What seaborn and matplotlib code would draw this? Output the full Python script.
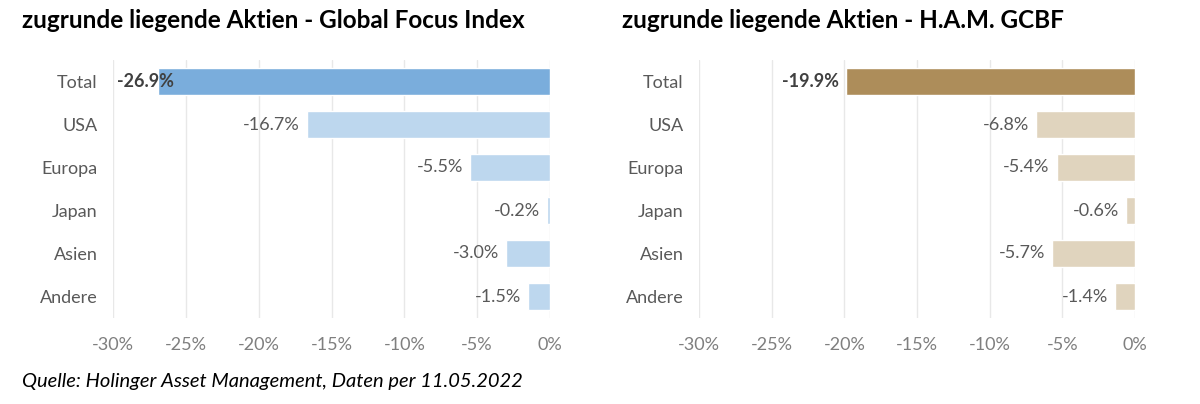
import numpy as np
import pandas as pd
import seaborn as sns
import matplotlib

matplotlib.use("Agg")
import matplotlib.pyplot as plt
from matplotlib.ticker import FuncFormatter

regions = ["Total", "USA", "Europa", "Japan", "Asien", "Andere"]
gfi_values = [-26.9, -16.7, -5.5, -0.2, -3.0, -1.5]
gcbf_values = [-19.9, -6.8, -5.4, -0.6, -5.7, -1.4]
x_ticks = [-30, -25, -20, -15, -10, -5, 0]

titles = [
    "zugrunde liegende Aktien - Global Focus Index",
    "zugrunde liegende Aktien - H.A.M. GCBF",
]
source_note = "Quelle: Holinger Asset Management, Daten per 11.05.2022"

gfi_colors = ["#7aaddc"] + ["#bdd7ee"] * 5
gcbf_colors = ["#ad8d5a"] + ["#e0d4be"] * 5

sns.set_theme(style="white")
plt.rcParams["font.family"] = ["Lato", "DejaVu Sans"]

fig = plt.figure(figsize=(12, 4.04), dpi=100)
ax_left = fig.add_axes([113 / 1200, 1 - 318 / 404, 437 / 1200, 258 / 404])
ax_right = fig.add_axes([699 / 1200, 1 - 318 / 404, 436 / 1200, 258 / 404])

panels = [
    (ax_left, gfi_values, gfi_colors, titles[0], 22 / 1200),
    (ax_right, gcbf_values, gcbf_colors, titles[1], 622 / 1200),
]

for ax, values, colors, title, title_x in panels:
    df = pd.DataFrame({"Region": regions, "Change": values})
    sns.barplot(
        data=df,
        x="Change",
        y="Region",
        hue="Region",
        palette=colors,
        saturation=1,
        legend=False,
        width=0.65,
        ax=ax,
        zorder=2,
    )
    ax.set_xlim(-30, 0)
    ax.set_ylim(5.5, -0.5)
    ax.set_xticks(x_ticks)
    ax.xaxis.set_major_formatter(FuncFormatter(lambda v, p: f"{v:.0f}%"))
    ax.set_xlabel("")
    ax.set_ylabel("")
    ax.grid(axis="x", color="#d9d9d9", linewidth=1, zorder=3, alpha=0.6)
    ax.grid(axis="y", visible=False)
    for side in ["top", "right", "bottom", "left"]:
        ax.spines[side].set_visible(False)
    ax.tick_params(axis="x", colors="#7f7f7f", labelsize=13, pad=14, length=0)
    ax.tick_params(axis="y", colors="#595959", labelsize=13, pad=11, length=0)
    for lbl in ax.get_xticklabels():
        lbl.set_color("#7f7f7f")
    for lbl in ax.get_yticklabels():
        lbl.set_color("#595959")

    for i, v in enumerate(values):
        bold = i == 0
        text = f"{v:.1f}%"
        if v < -25:
            ax.annotate(
                text, xy=(-30, i), xytext=(3, 0), textcoords="offset points",
                ha="left", va="center", fontsize=13, color="#404040",
                fontweight="bold", zorder=4,
            )
        else:
            ax.annotate(
                text, xy=(v, i), xytext=(-5, 0), textcoords="offset points",
                ha="right", va="center", fontsize=13,
                color="#404040" if bold else "#595959",
                fontweight="bold" if bold else "normal", zorder=4,
            )

    fig.text(title_x, 1 - 21 / 404, title, fontsize=17.5, fontweight="bold",
             color="black", ha="left", va="center")

fig.text(22 / 1200, 1 - 381 / 404, source_note, fontsize=14.5, style="italic",
         color="black", ha="left", va="center")

fig.savefig("out.png", dpi=100)
